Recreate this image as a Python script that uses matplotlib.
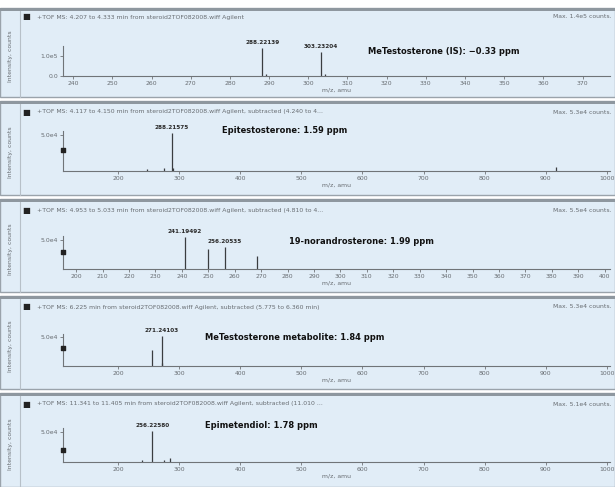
import matplotlib
matplotlib.use("Agg")
import matplotlib.pyplot as plt
from matplotlib.patches import Rectangle
from matplotlib.lines import Line2D

# ---------------- data ----------------
headers = [
    "+TOF MS: 4.207 to 4.333 min from steroid2TOF082008.wiff Agilent",
    "+TOF MS: 4.117 to 4.150 min from steroid2TOF082008.wiff Agilent, subtracted (4.240 to 4...",
    "+TOF MS: 4.953 to 5.033 min from steroid2TOF082008.wiff Agilent, subtracted (4.810 to 4...",
    "+TOF MS: 6.225 min from steroid2TOF082008.wiff Agilent, subtracted (5.775 to 6.360 min)",
    "+TOF MS: 11.341 to 11.405 min from steroid2TOF082008.wiff Agilent, subtracted (11.010 ...",
]
max_labels = ["Max. 1.4e5 counts.", "Max. 5.3e4 counts.", "Max. 5.5e4 counts.",
              "Max. 5.3e4 counts.", "Max. 5.1e4 counts."]
compounds = ["MeTestosterone (IS): \u22120.33 ppm", "Epitestosterone: 1.59 ppm",
             "19-norandrosterone: 1.99 ppm", "MeTestosterone metabolite: 1.84 ppm",
             "Epimetendiol: 1.78 ppm"]

p1_mz = [288.22139, 289.225, 303.23204, 304.236]
p1_int = [1.40e5, 1.2e4, 1.20e5, 1.0e4]
p2_mz = [247.0, 275.0, 288.21575, 289.22, 916.0]
p2_int = [3.0e3, 4.0e3, 5.3e4, 4.0e3, 6.0e3]
p3_mz = [241.19492, 250.0, 256.20535, 268.5]
p3_int = [5.4e4, 3.4e4, 3.8e4, 2.2e4]
p4_mz = [255.2, 271.24103, 272.24]
p4_int = [2.8e4, 5.3e4, 5.0e3]
p5_mz = [256.22580, 240.0, 275.0, 285.0]
p5_int = [5.1e4, 3.0e3, 4.0e3, 6.0e3]

peak_labels = [[288.22139, 303.23204], [288.21575], [241.19492, 256.20535],
               [271.24103], [256.22580]]
axis_dot = [None, 2.9e4, 2.9e4, 3.1e4, 1.9e4]

p1_ticks = list(range(240, 371, 10))
p3_ticks = list(range(200, 401, 10))
wide_ticks = list(range(200, 1001, 100))

ytick_vals = [[0.0, 1.0e5], [5.0e4], [5.0e4], [5.0e4], [5.0e4]]
ytick_text = [["0.0", "1.0e5"], ["5.0e4"], ["5.0e4"], ["5.0e4"], ["5.0e4"]]

# ---------------- layout ----------------
W, H = 615, 487
fig = plt.figure(figsize=(W / 100, H / 100), dpi=100)
fig.patch.set_facecolor("white")

def fx(x):
    return x / W

def fy(y):
    return 1 - y / H

BG = "#e1edf7"
panels = [
    dict(top=8, bot=97, hy=17, base=76, atop=46, xlim=(237.4, 377), ylim=(0, 1.5e5), cxy=(368, 51)),
    dict(top=101, bot=195, hy=112, base=171, atop=131, xlim=(110, 1005), ylim=(0, 5.6e4), cxy=(222, 130)),
    dict(top=199, bot=292, hy=210, base=269, atop=236, xlim=(195, 402), ylim=(0, 5.6e4), cxy=(289, 242)),
    dict(top=296, bot=389, hy=307, base=366, atop=334, xlim=(110, 1005), ylim=(0, 5.6e4), cxy=(205, 337)),
    dict(top=393, bot=487, hy=404, base=462, atop=428, xlim=(110, 1005), ylim=(0, 5.6e4), cxy=(205, 425)),
]
mzs = [p1_mz, p2_mz, p3_mz, p4_mz, p5_mz]
ints = [p1_int, p2_int, p3_int, p4_int, p5_int]
xticks = [p1_ticks, wide_ticks, p3_ticks, wide_ticks, wide_ticks]

GRAY = "#676c71"
bold_kw = dict(family="DejaVu Sans", fontstretch="condensed", fontweight="bold")

for i, p in enumerate(panels):
    fig.patches.append(Rectangle((fx(0), fy(p["bot"])), fx(W), (p["bot"] - p["top"]) / H,
                                 transform=fig.transFigure, facecolor=BG,
                                 edgecolor="#9aa3ab", lw=1.0, zorder=-3))
    fig.patches.append(Rectangle((fx(0), fy(p["top"] + 3)), fx(W), 3 / H,
                                 transform=fig.transFigure, facecolor="#8e979f",
                                 edgecolor="none", zorder=-2))
    fig.lines.append(Line2D([fx(20), fx(20)], [fy(p["top"] + 3), fy(p["bot"])],
                            transform=fig.transFigure, color="#b7c0c8", lw=0.8, zorder=-2))
    fig.text(fx(22), fy(p["hy"]), "\u25A0", fontsize=6, color="#222222", va="center", ha="left")
    fig.text(fx(37), fy(p["hy"]), headers[i], fontsize=4.4, color=GRAY, va="center", ha="left")
    fig.text(fx(612), fy(p["hy"]), max_labels[i], fontsize=4.4, color=GRAY, va="center", ha="right")
    fig.text(fx(11), fy((p["top"] + p["bot"]) / 2 + 4), "Intensity, counts", fontsize=4.4,
             color=GRAY, rotation=90, va="center", ha="center")

    ax = fig.add_axes([fx(63), fy(p["base"]), fx(610) - fx(63), (p["base"] - p["atop"]) / H])
    ax.set_facecolor("none")
    ax.set_xlim(*p["xlim"])
    ax.set_ylim(*p["ylim"])
    for s in ("top", "right"):
        ax.spines[s].set_visible(False)
    for s in ("left", "bottom"):
        ax.spines[s].set_color("#707478")
        ax.spines[s].set_linewidth(0.8)
    ax.vlines(mzs[i], 0, ints[i], color="#3a3d40", lw=0.9)
    ax.set_xticks(xticks[i])
    ax.set_xticklabels([str(t) for t in xticks[i]])
    ax.set_yticks(ytick_vals[i])
    ax.set_yticklabels(ytick_text[i])
    ax.tick_params(axis="both", labelsize=4.4, labelcolor=GRAY, color="#707478",
                   length=2, width=0.6, pad=1.5)
    ax.set_xlabel("m/z, amu", fontsize=4.4, color=GRAY, labelpad=1)
    if axis_dot[i] is not None:
        ax.scatter([p["xlim"][0]], [axis_dot[i]], s=6, marker="s", color="#222222",
                   clip_on=False, zorder=5)
    for mz in peak_labels[i]:
        h = ints[i][mzs[i].index(mz)]
        ax.annotate(f"{mz:.5f}", (mz, h), xytext=(0, 2), textcoords="offset points",
                    ha="center", va="bottom", fontsize=4.6, color="#2a2a2a",
                    annotation_clip=False, **bold_kw)
    fig.text(fx(p["cxy"][0]), fy(p["cxy"][1]), compounds[i], fontsize=6.7, color="#111111",
             va="center", ha="left", **bold_kw)

fig.savefig("out.png", dpi=100, facecolor="white")
